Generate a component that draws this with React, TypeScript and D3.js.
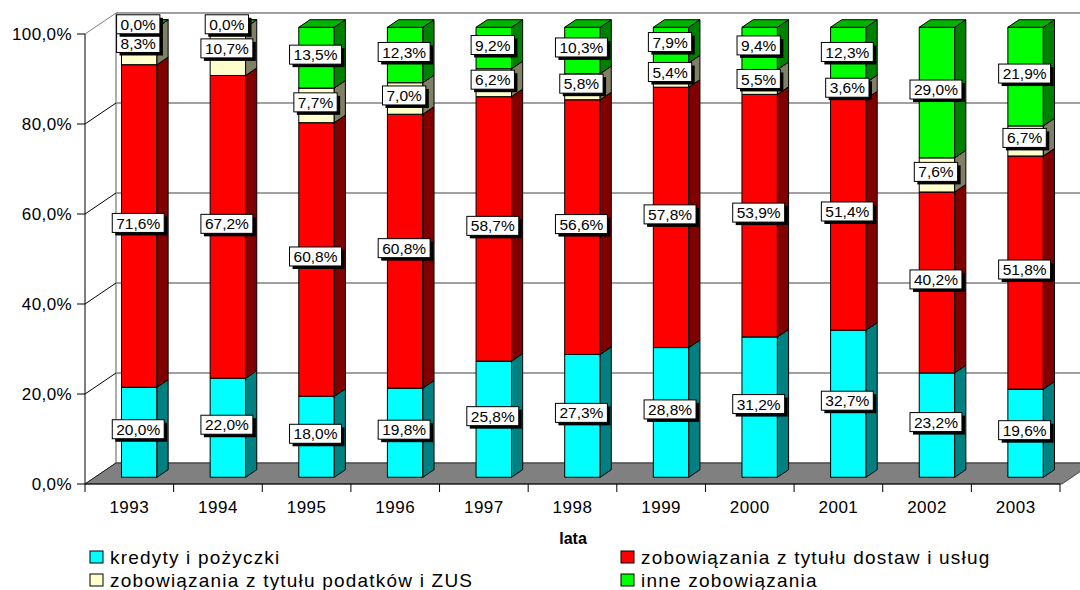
import React from "react";
import * as d3 from "d3";

// Struktura zobowiązań w latach 1993–2003 (udział procentowy)
const years = ["1993", "1994", "1995", "1996", "1997", "1998", "1999", "2000", "2001", "2002", "2003"];
const kredyty = [20.0, 22.0, 18.0, 19.8, 25.8, 27.3, 28.8, 31.2, 32.7, 23.2, 19.6];
const dostawy = [71.6, 67.2, 60.8, 60.8, 58.7, 56.6, 57.8, 53.9, 51.4, 40.2, 51.8];
const podatki = [8.3, 10.7, 7.7, 7.0, 6.2, 5.8, 5.4, 5.5, 3.6, 7.6, 6.7];
const inne = [0.0, 0.0, 13.5, 12.3, 9.2, 10.3, 7.9, 9.4, 12.3, 29.0, 21.9];

const seriesKeys = ["kredyty", "dostawy", "podatki", "inne"];
const seriesNames = [
  "kredyty i pożyczki",
  "zobowiązania z tytułu dostaw i usług",
  "zobowiązania z tytułu podatków i ZUS",
  "inne zobowiązania",
];
const yTicks = [0, 20, 40, 60, 80, 100];
const axisTitle = "lata";

const frontColors = ["#00ffff", "#ff0000", "#ffffcc", "#00ff00"];
const sideColors = ["#008080", "#800000", "#808066", "#008000"];
const topColors = ["#00b8b8", "#b80000", "#c8c8a0", "#00b400"];

const W = 1080;
const H = 590;
const FONT = "'Liberation Sans', Arial, Helvetica, sans-serif";

const rows = years.map((year, i) => ({
  year,
  kredyty: kredyty[i],
  dostawy: dostawy[i],
  podatki: podatki[i],
  inne: inne[i],
}));

const fmt = d3.format(".1f");
const pct = (v: number) => fmt(v).replace(".", ",") + "%";

// Arial / Liberation Sans advance widths (em) for the characters used in value labels
function labelWidth(t: string, size: number): number {
  let w = 0;
  for (const ch of t) {
    if (ch >= "0" && ch <= "9") w += 0.556;
    else if (ch === "," || ch === ".") w += 0.278;
    else if (ch === "%") w += 0.889;
    else w += 0.556;
  }
  return w * size;
}

export default function App() {
  // front plane of the plot
  const x0 = 85;
  const x1 = 1060;
  const yBase = 484;
  const yTop = 34;
  // depth of the plot box (oblique projection)
  const depth: [number, number] = [31, -21];
  const barDepthFrom = 0.32;
  const barDepthTo = 0.68;

  const x = d3.scaleBand<string>().domain(years).range([x0, x1]).padding(0);
  const y = d3.scaleLinear().domain([0, 1]).range([yBase, yTop]);
  const yPct = d3.scaleLinear().domain([0, 100]).range([yBase, yTop]);

  const stack = d3
    .stack<any>()
    .keys(seriesKeys)
    .offset(d3.stackOffsetExpand);
  const stacked = stack(rows);

  const band = x.bandwidth();
  const barW = band / 2.5;
  const fOff: [number, number] = [depth[0] * barDepthFrom, depth[1] * barDepthFrom];
  const bOff: [number, number] = [depth[0] * barDepthTo, depth[1] * barDepthTo];
  const sdx = bOff[0] - fOff[0];
  const sdy = bOff[1] - fOff[1];

  const bars: React.ReactNode[] = [];
  const labels: React.ReactNode[] = [];
  const labelSize = 15.5;

  years.forEach((yr, i) => {
    const left = (x(yr) as number) + band / 2 - barW / 2 + fOff[0];
    const right = left + barW;
    stacked.forEach((s, si) => {
      const d = s[i];
      const yb = y(d[0]) + fOff[1];
      const yt = y(d[1]) + fOff[1];
      const pts = (arr: [number, number][]) => arr.map((p) => p.join(",")).join(" ");
      bars.push(
        <g key={`b-${yr}-${si}`} stroke="#000" strokeWidth={1} strokeLinejoin="round">
          <rect x={left} y={yt} width={barW} height={Math.max(0, yb - yt)} fill={frontColors[si]} />
          <polygon
            points={pts([
              [right, yb],
              [right, yt],
              [right + sdx, yt + sdy],
              [right + sdx, yb + sdy],
            ])}
            fill={sideColors[si]}
          />
          <polygon
            points={pts([
              [left, yt],
              [right, yt],
              [right + sdx, yt + sdy],
              [left + sdx, yt + sdy],
            ])}
            fill={topColors[si]}
          />
        </g>
      );
      const raw = (rows[i] as any)[seriesKeys[si]] as number;
      const txt = pct(raw);
      const tw = labelWidth(txt, labelSize);
      const bw = tw + 8;
      const bh = 19;
      const cx = left + barW / 2 - 1;
      const cy = (yb + yt) / 2 - 3;
      labels.push(
        <g key={`l-${yr}-${si}`}>
          <rect x={cx - bw / 2 + 3} y={cy - bh / 2 + 3} width={bw} height={bh} fill="#000" />
          <rect
            x={cx - bw / 2}
            y={cy - bh / 2}
            width={bw}
            height={bh}
            fill="#fff"
            stroke="#000"
            strokeWidth={1}
          />
          <text
            x={cx}
            y={cy}
            dy="0.36em"
            textAnchor="middle"
            fontFamily={FONT}
            fontSize={labelSize}
            fill="#000"
          >
            {txt}
          </text>
        </g>
      );
    });
  });

  const [dx, dy] = depth;

  return (
    <svg
      width={W}
      height={H}
      viewBox={`0 0 ${W} ${H}`}
      style={{ position: "absolute", left: 0, top: 0, background: "#fff" }}
    >
      {/* back wall gridlines */}
      {yTicks.map((t) => (
        <line
          key={`g-${t}`}
          x1={x0 + dx}
          x2={x1 + dx + 40}
          y1={yPct(t) + dy}
          y2={yPct(t) + dy}
          stroke="#808080"
          strokeWidth={1.3}
        />
      ))}
      <line x1={x0 + dx} x2={x0 + dx} y1={yBase + dy} y2={yTop + dy} stroke="#808080" strokeWidth={1.3} />
      {/* side wall gridlines */}
      {yTicks.map((t) => (
        <line
          key={`s-${t}`}
          x1={x0}
          x2={x0 + dx}
          y1={yPct(t)}
          y2={yPct(t) + dy}
          stroke={t === 100 ? "#808080" : "#000"}
          strokeWidth={1}
        />
      ))}
      {/* floor */}
      <polygon
        points={`${x0},${yBase} ${x1 + 2},${yBase} ${x1 + dx + 2},${yBase + dy} ${x0 + dx},${yBase + dy}`}
        fill="#808080"
        stroke="#000"
        strokeWidth={0.6}
      />
      {bars}
      {/* value axis */}
      <line x1={x0} x2={x0} y1={yBase} y2={yTop} stroke="#000" strokeWidth={1} />
      {yTicks.map((t) => (
        <g key={`yt-${t}`}>
          <line x1={x0 - 8} x2={x0} y1={yPct(t)} y2={yPct(t)} stroke="#000" strokeWidth={1} />
          <text
            x={x0 - 13}
            y={yPct(t)}
            dy="0.36em"
            textAnchor="end"
            fontFamily={FONT}
            fontSize={17}
            letterSpacing={0.4}
            fill="#000"
          >
            {pct(t)}
          </text>
        </g>
      ))}
      {/* category axis */}
      <line x1={x0} x2={x1} y1={yBase} y2={yBase} stroke="#000" strokeWidth={1} />
      {d3.range(years.length + 1).map((k) => (
        <line
          key={`xt-${k}`}
          x1={x0 + k * band}
          x2={x0 + k * band}
          y1={yBase}
          y2={yBase + 8}
          stroke="#000"
          strokeWidth={1}
        />
      ))}
      {years.map((yr) => (
        <text
          key={`xl-${yr}`}
          x={(x(yr) as number) + band / 2}
          y={513}
          textAnchor="middle"
          fontFamily={FONT}
          fontSize={17}
          letterSpacing={0.5}
          fill="#000"
        >
          {yr}
        </text>
      ))}
      <text x={573} y={544} textAnchor="middle" fontFamily={FONT} fontSize={16} fontWeight="bold" fill="#000">
        {axisTitle}
      </text>
      {labels}
      {/* legend */}
      {seriesNames.map((name, si) => {
        const col = si === 0 || si === 2 ? 0 : 1;
        const row = si < 2 ? 0 : 1;
        const bx = col === 0 ? 90 : 621;
        const by = row === 0 ? 551 : 574;
        return (
          <g key={`lg-${si}`}>
            <rect x={bx} y={by} width={13} height={12} fill={frontColors[si]} stroke="#000" strokeWidth={1} />
            <text
              x={bx + 20}
              y={by + 13}
              fontFamily={FONT}
              fontSize={19}
              letterSpacing={1.2}
              fill="#000"
            >
              {name}
            </text>
          </g>
        );
      })}
    </svg>
  );
}
